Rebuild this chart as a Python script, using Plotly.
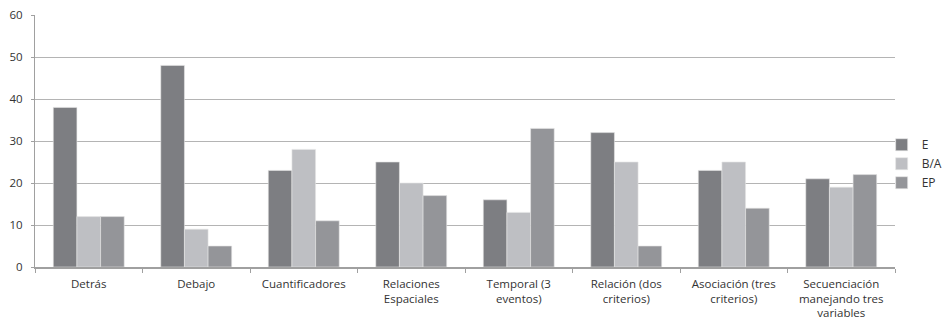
import plotly.graph_objects as go

categories = ["Detrás", "Debajo", "Cuantificadores", "Relaciones<br>Espaciales",
              "Temporal (3<br>eventos)", "Relación (dos<br>criterios)",
              "Asociación (tres<br>criterios)", "Secuenciación<br>manejando tres<br>variables"]
series_names = ["E", "B/A", "EP"]
values_E = [38, 48, 23, 25, 16, 32, 23, 21]
values_BA = [12, 9, 28, 20, 13, 25, 25, 19]
values_EP = [12, 5, 11, 17, 33, 5, 14, 22]
y_ticks = [0, 10, 20, 30, 40, 50, 60]

colors = ["#7d7e82", "#bebfc3", "#949599"]

fig = go.Figure()
for name, vals, c in zip(series_names, [values_E, values_BA, values_EP], colors):
    fig.add_trace(go.Bar(x=categories, y=vals, name=name, marker_color=c,
                         marker_line_width=0.6, marker_line_color="#e6e6e6"))

fig.update_layout(
    width=947, height=321,
    margin=dict(l=35, r=52, t=15, b=54, autoexpand=False),
    paper_bgcolor="white", plot_bgcolor="white",
    barmode="group", bargap=0.34, bargroupgap=0,
    font=dict(family="Open Sans", size=11.5, color="#333333"),
    legend=dict(xref="container", yref="container", x=0.931, y=0.49,
                xanchor="left", yanchor="middle",
                font=dict(size=12, color="#333333"), itemwidth=30,
                tracegroupgap=3, bgcolor="rgba(0,0,0,0)"),
    showlegend=True,
)
fig.update_xaxes(showline=True, linecolor="#a0a0a0", linewidth=1.5, automargin=False,
                 ticks="outside", tickson="boundaries", ticklen=4, tickcolor="#a0a0a0",
                 ticklabelstandoff=5,
                 tickfont=dict(size=11.5, color="#333333"), tickangle=0)
fig.update_yaxes(range=[0, 60], tickvals=y_ticks, showline=True, linecolor="#a0a0a0",
                 linewidth=1.2, ticks="outside", ticklen=3, tickcolor="#a0a0a0",
                 automargin=False, ticklabelstandoff=6,
                 showgrid=True, gridcolor="#b4b4b4", gridwidth=1.2,
                 zeroline=False, tickfont=dict(size=11.5, color="#333333"))

fig.write_html("out.html", config={"displayModeBar": False},
               post_script="document.body.style.margin='0';document.body.style.overflow='hidden';")
